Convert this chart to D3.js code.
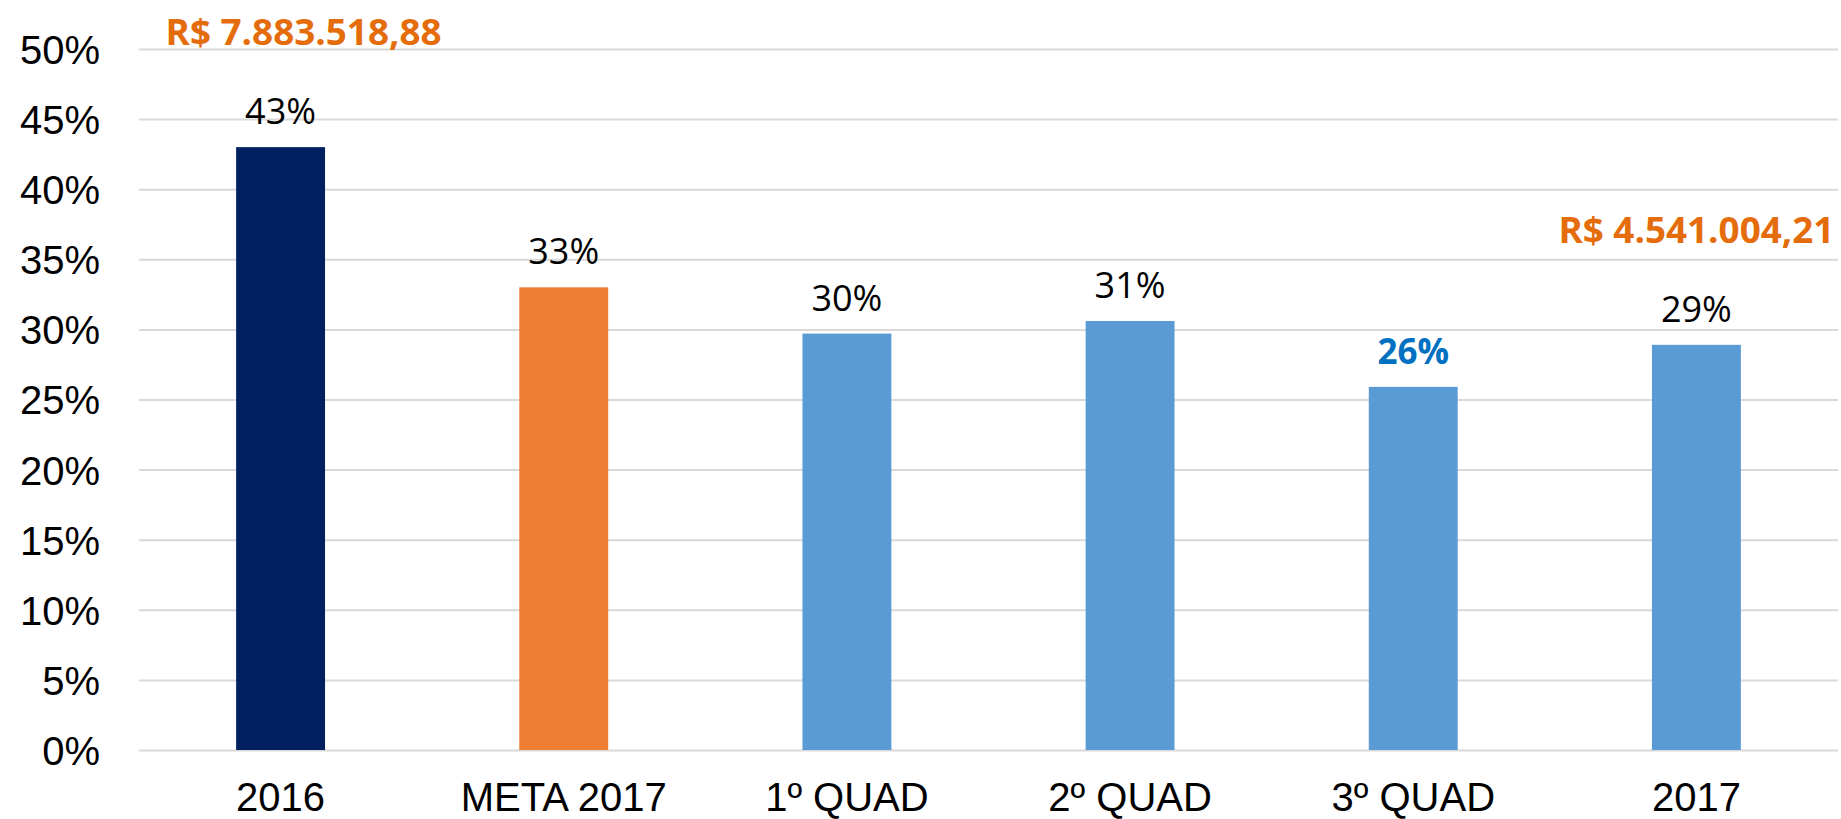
<!DOCTYPE html>
<html>
<head>
<meta charset="utf-8">
<script src="https://cdn.jsdelivr.net/npm/d3@7"></script>
<style>
  html, body { margin: 0; padding: 0; background: #fff; }
  svg { display: block; }
</style>
</head>
<body>
<svg id="chart" width="1841" height="819"></svg>
<script>
// ---- data ----
const categories = ["2016", "META 2017", "1º QUAD", "2º QUAD", "3º QUAD", "2017"];
const values = [43, 33, 29.7, 30.6, 25.9, 28.9];
const valueLabels = ["43%", "33%", "30%", "31%", "26%", "29%"];
const yTicks = [0, 5, 10, 15, 20, 25, 30, 35, 40, 45, 50];
const amountCategories = ["2016", "2017"];
const amountTexts = ["R$ 7.883.518,88", "R$ 4.541.004,21"];

// ---- styles ----
const barColors = ["#002060", "#ED7D31", "#5B9BD5", "#5B9BD5", "#5B9BD5", "#5B9BD5"];
const highlightLabel = "3º QUAD";

const svg = d3.select("#chart");
const margin = { left: 139, right: 3, top: 49, bottom: 69 };
const W = 1841, H = 819;

const x = d3.scaleBand()
  .domain(categories)
  .range([margin.left, W - margin.right])
  .paddingInner(0.686)
  .paddingOuter(0.343);

const y = d3.scaleLinear()
  .domain([0, 50])
  .range([H - margin.bottom, margin.top]);

const color = d3.scaleOrdinal().domain(categories).range(barColors);

// gridlines + y tick labels
const yAxis = svg.append("g")
  .attr("transform", `translate(${margin.left},0)`)
  .call(d3.axisLeft(y).tickValues(yTicks).tickSize(-(W - margin.right - margin.left)).tickPadding(39).tickFormat(d => d + "%"));
yAxis.select(".domain").remove();
yAxis.selectAll(".tick line").attr("stroke", "#D9D9D9").attr("stroke-width", 2);
yAxis.selectAll(".tick text")
  .attr("font-family", "'Liberation Sans', Arial, sans-serif")
  .attr("font-size", 40)
  .attr("fill", "#000")
  .attr("dy", "0.36em");

// x axis labels
const xAxis = svg.append("g")
  .attr("transform", `translate(0,${y(0)})`)
  .call(d3.axisBottom(x).tickSize(0).tickPadding(0));
xAxis.select(".domain").remove();
xAxis.selectAll(".tick text")
  .attr("font-family", "'Liberation Sans', Arial, sans-serif")
  .attr("font-size", 40)
  .attr("fill", "#000")
  .attr("dy", null)
  .attr("y", 61);

// bars
const data = categories.map((c, i) => ({ c, v: values[i], label: valueLabels[i] }));
svg.append("g").selectAll("rect")
  .data(data)
  .join("rect")
  .attr("x", d => x(d.c))
  .attr("width", x.bandwidth())
  .attr("y", d => y(d.v))
  .attr("height", d => y(0) - y(d.v))
  .attr("fill", d => color(d.c));

// value labels
svg.append("g").selectAll("text")
  .data(data)
  .join("text")
  .attr("x", d => x(d.c) + x.bandwidth() / 2)
  .attr("y", d => y(d.v) - 23)
  .attr("text-anchor", "middle")
  .attr("font-family", "'Open Sans', 'Noto Sans', sans-serif")
  .attr("font-size", d => d.c === highlightLabel ? 35 : 36)
  .attr("font-weight", d => d.c === highlightLabel ? 700 : 400)
  .attr("fill", d => d.c === highlightLabel ? "#0070C0" : "#000")
  .text(d => d.label);

// amount annotations
const amountOffsets = [23, 0];
svg.append("g").selectAll("text")
  .data(amountCategories.map((c, i) => ({ c, t: amountTexts[i], dx: amountOffsets[i], v: values[categories.indexOf(c)] })))
  .join("text")
  .attr("x", d => x(d.c) + x.bandwidth() / 2 + d.dx)
  .attr("y", d => y(d.v) - 23 - 79)
  .attr("text-anchor", "middle")
  .attr("font-family", "'Open Sans', 'Noto Sans', sans-serif")
  .attr("font-size", 35)
  .attr("font-weight", 700)
  .attr("fill", "#E46C0A")
  .attr("textLength", 276)
  .attr("lengthAdjust", "spacingAndGlyphs")
  .text(d => d.t);
</script>
</body>
</html>
